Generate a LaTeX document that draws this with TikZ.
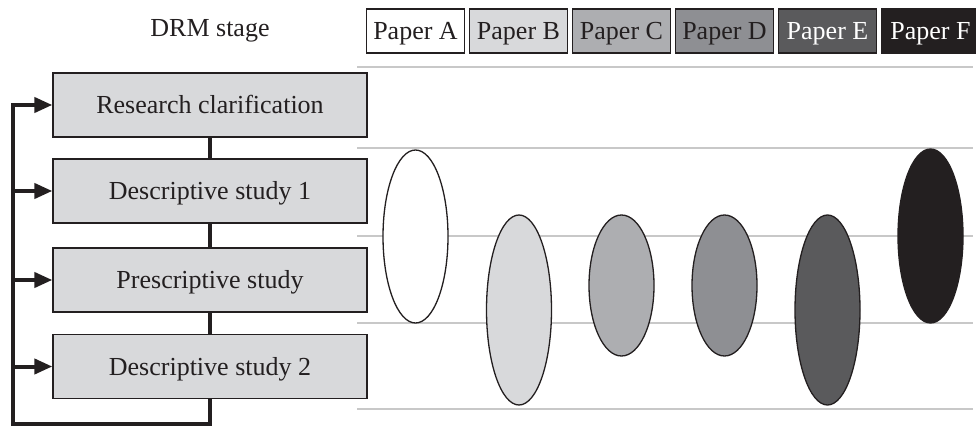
\documentclass[tikz,border=0pt]{standalone}
\usepackage{fontspec}
\setmainfont{Liberation Serif}
\usetikzlibrary{arrows.meta,shapes.geometric}
\definecolor{ink}{HTML}{231F20}
\definecolor{pA}{HTML}{FFFFFF}
\definecolor{pB}{HTML}{D8D9DB}
\definecolor{pC}{HTML}{ADAEB1}
\definecolor{pD}{HTML}{8E8F93}
\definecolor{pE}{HTML}{5A5A5C}
\definecolor{pF}{HTML}{231F20}
\definecolor{rulegray}{HTML}{C8C8C8}
\begin{document}
\begin{tikzpicture}[x=1pt,y=-1pt,
  txt/.style={font=\fontsize{26}{26}\selectfont, text height=17pt, text depth=0pt, inner sep=0pt},
  stagebox/.style={txt, draw=ink, line width=1.3pt, fill=pB, text=ink,
    minimum width=314pt, minimum height=64pt},
  paperbox/.style={txt, draw=ink, line width=1.5pt,
    minimum width=98pt, minimum height=44pt},
  blob/.style={ellipse, draw=ink, line width=1.3pt, inner sep=0pt, minimum width=65pt},
  rule/.style={draw=rulegray, line width=1.5pt},
  conn/.style={draw=ink, line width=4pt},
  arr/.style={conn, -{Triangle[length=18pt,width=15pt]}}
]
\useasboundingbox (0,0) rectangle (976,427);

% gray rules
\foreach \yy in {67,148,236,323,409}
  \draw[rule] (357,\yy) -- (973,\yy);

% header
\node[txt, text=ink] (drm) at (210,28) {DRM stage};
\node[paperbox, fill=pA, text=ink]   (hA) at (415.5,31) {Paper A};
\node[paperbox, fill=pB, text=ink]   (hB) at (518.5,31) {Paper B};
\node[paperbox, fill=pC, text=ink]   (hC) at (621.5,31) {Paper C};
\node[paperbox, fill=pD, text=ink]   (hD) at (724.5,31) {Paper D};
\node[paperbox, fill=pE, text=white] (hE) at (827.5,31) {Paper E};
\node[paperbox, fill=pF, text=white] (hF) at (930.5,31) {Paper F};

% stages
\node[stagebox] (s1) at (210,105)   {Research clarification};
\node[stagebox] (s2) at (210,191)   {Descriptive study 1};
\node[stagebox] (s3) at (210,280)   {Prescriptive study};
\node[stagebox] (s4) at (210,366.5) {Descriptive study 2};

\draw[conn] (s1.south) -- (s2.north);
\draw[conn] (s2.south) -- (s3.north);
\draw[conn] (s3.south) -- (s4.north);

\coordinate (bl) at (13,424);
\draw[arr] (s4.south) |- (bl) -- (bl |- s1.west) -- (s1.west);
\draw[arr] (bl |- s2.west) -- (s2.west);
\draw[arr] (bl |- s3.west) -- (s3.west);
\draw[arr] (bl |- s4.west) -- (s4.west);

% ellipses
\node[blob, fill=pA, minimum height=173pt] (eA) at (415.5,236.5) {};
\node[blob, fill=pB, minimum height=190pt] (eB) at (519,310) {};
\node[blob, fill=pC, minimum height=141pt] (eC) at (621.5,285.5) {};
\node[blob, fill=pD, minimum height=141pt] (eD) at (724.5,285.5) {};
\node[blob, fill=pE, minimum height=190pt] (eE) at (827.5,310) {};
\node[blob, fill=pF, minimum height=174pt] (eF) at (930.5,236) {};
\end{tikzpicture}
\end{document}
